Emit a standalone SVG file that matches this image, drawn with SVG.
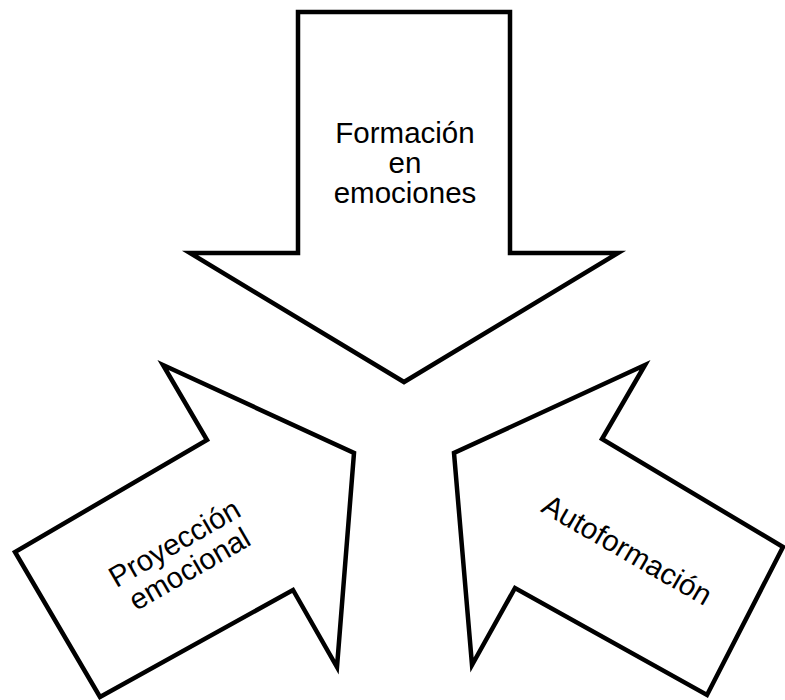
<svg xmlns="http://www.w3.org/2000/svg" width="785" height="700" viewBox="0 0 785 700">
  <style>
    .arrow { fill: #ffffff; stroke: #000000; stroke-width: 4.5; stroke-linejoin: miter; stroke-miterlimit: 10; }
    .label { font-family: "Liberation Sans", Arial, sans-serif; font-size: 29.5px; fill: #000000; text-anchor: middle; }
  </style>
  <rect width="785" height="700" fill="#ffffff"/>

  <!-- downward block arrow -->
  <g id="formacion">
    <polygon class="arrow" points="298,12 510,12 510,253 618,253 404,382 190,253 298,253"/>
    <text class="label" x="405" y="143">Formación</text>
    <text class="label" x="405" y="173">en</text>
    <text class="label" x="405" y="203">emociones</text>
  </g>

  <!-- block arrow pointing up-right -->
  <g id="proyeccion">
    <polygon class="arrow" points="163,365 354,453 337,667 293,590 100,697 15,552 207,440"/>
    <g transform="translate(182,556) rotate(-30)">
      <text class="label" x="0" y="-5">Proyección</text>
      <text class="label" x="0" y="25">emocional</text>
    </g>
  </g>

  <!-- block arrow pointing up-left -->
  <g id="autoformacion">
    <polygon class="arrow" points="645,365 602,439 783,547 707,695 515,588 472,665 454,453"/>
    <g transform="translate(627,550) rotate(30)">
      <text class="label" x="0" y="10">Autoformación</text>
    </g>
  </g>

  <g id="connectors"></g>
</svg>
